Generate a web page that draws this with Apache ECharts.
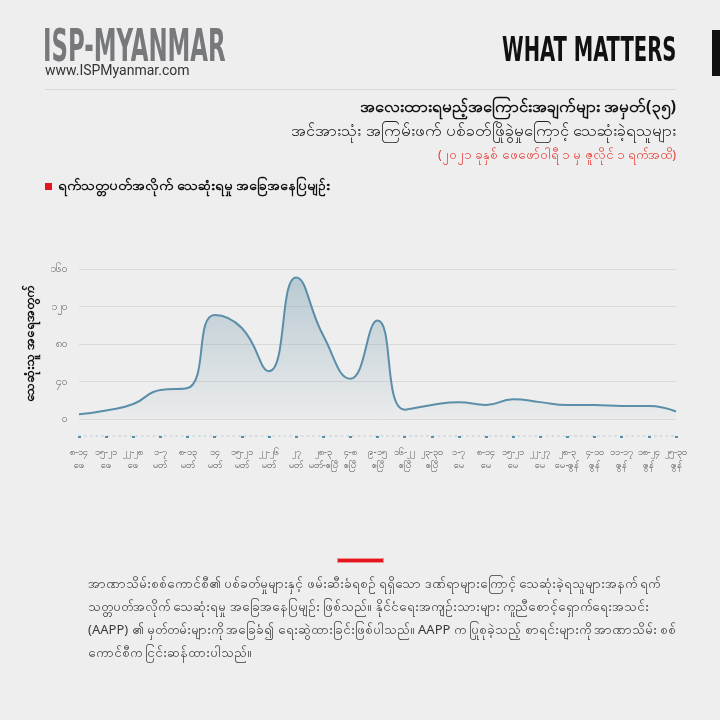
<!DOCTYPE html>
<html>
<head>
<meta charset="utf-8">
<script src="https://cdn.jsdelivr.net/npm/echarts@6/dist/echarts.min.js"></script>
<style>
html,body{margin:0;padding:0;background:#eeeeee;}
#wrap{position:relative;width:720px;height:720px;background:#eeeeee;overflow:hidden;font-family:"Noto Sans","DejaVu Sans",sans-serif;}
#chart{position:absolute;left:0;top:0;width:720px;height:720px;}
.abs{position:absolute;white-space:nowrap;}
#logo{left:43px;top:21px;font-family:"Liberation Sans Narrow","DejaVu Sans Condensed",sans-serif;font-weight:bold;font-size:45px;color:#77787b;transform:scaleX(0.565);transform-origin:0 0;line-height:50px;}
#url{left:45px;top:62px;font-family:"Roboto","Liberation Sans",sans-serif;font-size:14px;color:#333;}
#wm{right:44px;top:28px;font-family:"Liberation Sans Narrow","DejaVu Sans Condensed",sans-serif;font-weight:bold;font-size:34px;color:#111;transform:scaleX(0.64);transform-origin:100% 0;line-height:42px;}
#bar{left:712px;top:30px;width:8px;height:46px;background:#111;}
#rule{left:45px;top:89px;width:631px;height:1px;background:#d8d8d8;}
#t1{right:44px;top:95px;font-size:16.2px;font-weight:bold;color:#111;}
#t2{right:44px;top:119px;font-size:16.2px;color:#222;}
#t3{right:44px;top:145px;font-size:12.8px;color:#e8403a;}
#sq{left:45px;top:183px;width:7px;height:7px;background:#e3161e;}
#sub{left:58px;top:175px;font-size:13.7px;font-weight:bold;color:#111;}
#red{left:337px;top:558px;width:45px;height:3px;background:#e3161e;border:1px solid #f09090;}
#para{position:absolute;left:88px;top:572px;width:545px;font-size:13px;line-height:23px;color:#3a3a3a;}
#para div{white-space:nowrap;text-align:justify;text-align-last:justify;}
#para div.last{text-align:left;text-align-last:left;}
</style>
</head>
<body>
<div id="wrap">
<div id="chart"></div>
<div class="abs" id="logo">ISP-MYANMAR</div>
<div class="abs" id="url">www.ISPMyanmar.com</div>
<div class="abs" id="wm">WHAT MATTERS</div>
<div class="abs" id="bar"></div>
<div class="abs" id="rule"></div>
<div class="abs" id="t1">အလေးထားရမည့်အကြောင်းအချက်များ အမှတ်(၃၅)</div>
<div class="abs" id="t2">အင်အားသုံး အကြမ်းဖက် ပစ်ခတ်ဖြိုခွဲမှုကြောင့် သေဆုံးခဲ့ရသူများ</div>
<div class="abs" id="t3">(၂၀၂၁ ခုနှစ် ဖေဖော်ဝါရီ ၁ မှ ဇူလိုင် ၁ ရက်အထိ)</div>
<div class="abs" id="sq"></div>
<div class="abs" id="sub">ရက်သတ္တပတ်အလိုက် သေဆုံးရမှု အခြေအနေပြမျဉ်း</div>
<div class="abs" id="red"></div>
<div id="para">
<div>အာဏာသိမ်းစစ်ကောင်စီ၏ ပစ်ခတ်မှုများနှင့် ဖမ်းဆီးခံရစဉ် ရရှိသော ဒဏ်ရာများကြောင့် သေဆုံးခဲ့ရသူများအနက် ရက်</div>
<div>သတ္တပတ်အလိုက် သေဆုံးရမှု အခြေအနေပြမျဉ်း ဖြစ်သည်။ နိုင်ငံရေးအကျဉ်းသားများ ကူညီစောင့်ရှောက်ရေးအသင်း</div>
<div>(AAPP) ၏ မှတ်တမ်းများကို အခြေခံ၍ ရေးဆွဲထားခြင်းဖြစ်ပါသည်။ AAPP က ပြုစုခဲ့သည့် စာရင်းများကို အာဏာသိမ်း စစ်</div>
<div class="last">ကောင်စီက ငြင်းဆန်ထားပါသည်။</div>
</div>
</div>
<script>
var weekRanges = ['၈-၁၄','၁၅-၂၁','၂၂-၂၈','၁-၇','၈-၁၃','၁၄','၁၅-၂၁','၂၂-၂၆','၂၇','၂၈-၃','၄-၈','၉-၁၅','၁၆-၂၂','၂၃-၃၀','၁-၇','၈-၁၄','၁၅-၂၁','၂၂-၂၇','၂၈-၃','၄-၁၀','၁၁-၁၇','၁၈-၂၄','၂၅-၃၀'];
var weekMonths = ['ဖေ','ဖေ','ဖေ','မတ်','မတ်','မတ်','မတ်','မတ်','မတ်','မတ်-ဧပြီ','ဧပြီ','ဧပြီ','ဧပြီ','ဧပြီ','မေ','မေ','မေ','မေ','မေ-ဇွန်','ဇွန်','ဇွန်','ဇွန်','ဇွန်'];
var deaths = [5, 9, 16, 31, 33, 111, 97, 51, 151, 89, 43, 105, 10, 15, 18, 15, 21, 18, 15, 15, 14, 14, 8];
var yTicks = ['၀','၄၀','၈၀','၁၂၀','၁၆၀'];
var yAxisName = 'သေဆုံးသူ အရေအတွက်';

var categories = weekRanges.map(function(r, i){ return r + '\n' + weekMonths[i]; });
var chart = echarts.init(document.getElementById('chart'), null, {renderer:'canvas'});
chart.setOption({
  backgroundColor: '#eeeeee',
  animation: false,
  grid: {left: 79, right: 44, top: 269, bottom: 301, containLabel: false},
  xAxis: {
    type: 'category',
    data: categories,
    boundaryGap: false,
    offset: 17,
    axisLine: {show: true, onZero: false, lineStyle: {color: '#c9d6dc', width: 1.5, type: [1.5, 4.2]}},
    axisTick: {show: true, length: 2, lineStyle: {color: '#5b8ea8', width: 3}},
    axisLabel: {color: '#555', fontSize: 9.5, lineHeight: 13, margin: 10, interval: 0, fontFamily: '"Noto Sans","DejaVu Sans",sans-serif'},
    splitLine: {show: false}
  },
  yAxis: {
    type: 'value',
    min: 0, max: 160, interval: 40,
    name: yAxisName,
    nameLocation: 'middle',
    nameGap: 42,
    nameRotate: 90,
    nameTextStyle: {color: '#111', fontSize: 12.5, fontWeight: 'bold'},
    axisLine: {show: false},
    axisTick: {show: false},
    axisLabel: {color: '#666', fontSize: 11, margin: 12, formatter: function(v){ return yTicks[Math.round(v/40)]; }},
    splitLine: {lineStyle: {color: '#dadada', width: 1}}
  },
  series: [{
    type: 'line',
    data: deaths,
    smooth: true,
    symbol: 'none',
    lineStyle: {color: '#5b8ea8', width: 2},
    areaStyle: {
      color: new echarts.graphic.LinearGradient(0, 0, 0, 1, [
        {offset: 0, color: 'rgba(95,140,162,0.52)'},
        {offset: 1, color: 'rgba(95,140,162,0.04)'}
      ])
    }
  }]
});
</script>
</body>
</html>
